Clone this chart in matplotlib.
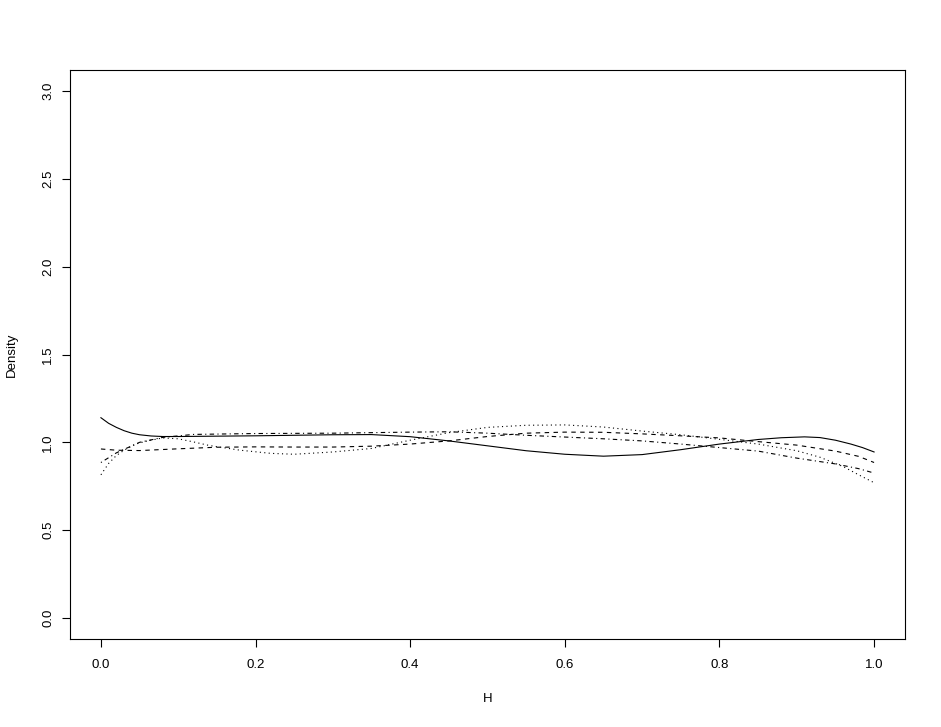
import matplotlib
matplotlib.use("Agg")
import matplotlib.pyplot as plt
import numpy as np

plt.rcParams['font.family'] = ['Liberation Sans', 'DejaVu Sans']

# density curves
x_solid = [0, 0.01, 0.02, 0.03, 0.04, 0.05, 0.065, 0.08, 0.1, 0.15, 0.2, 0.25, 0.3,
           0.35, 0.4, 0.45, 0.5, 0.55, 0.6, 0.65, 0.7, 0.75, 0.8, 0.85, 0.88, 0.91,
           0.93, 0.95, 0.97, 0.985, 1.0]
y_solid = [1.14, 1.108, 1.085, 1.066, 1.052, 1.043, 1.036, 1.033, 1.033, 1.035,
           1.037, 1.04, 1.043, 1.044, 1.032, 1.008, 0.98, 0.952, 0.932, 0.921, 0.93,
           0.958, 0.99, 1.016, 1.026, 1.031, 1.027, 1.012, 0.99, 0.97, 0.945]

x_dashed = [0, 0.02, 0.05, 0.1, 0.15, 0.2, 0.25, 0.3, 0.35, 0.4, 0.45, 0.5, 0.55,
            0.6, 0.65, 0.7, 0.75, 0.8, 0.85, 0.9, 0.95, 0.98, 1.0]
y_dashed = [0.962, 0.955, 0.953, 0.963, 0.972, 0.974, 0.973, 0.973, 0.978, 0.99,
            1.008, 1.033, 1.052, 1.058, 1.057, 1.048, 1.037, 1.025, 1.004, 0.984,
            0.95, 0.92, 0.885]

x_dotted = [0, 0.01, 0.02, 0.03, 0.045, 0.06, 0.08, 0.1, 0.12, 0.14, 0.18, 0.22, 0.25,
            0.3, 0.35, 0.4, 0.45, 0.5, 0.55, 0.6, 0.65, 0.7, 0.75, 0.8, 0.85, 0.9,
            0.93, 0.96, 0.98, 1.0]
y_dotted = [0.815, 0.88, 0.925, 0.955, 0.99, 1.008, 1.025, 1.02, 1.002, 0.982, 0.955,
            0.937, 0.932, 0.945, 0.965, 1.012, 1.055, 1.085, 1.097, 1.099, 1.087,
            1.064, 1.043, 1.017, 0.99, 0.952, 0.915, 0.862, 0.815, 0.77]

x_dashdot = [0, 0.02, 0.05, 0.08, 0.12, 0.2, 0.3, 0.4, 0.45, 0.5, 0.55, 0.6, 0.65,
             0.7, 0.75, 0.8, 0.85, 0.9, 0.95, 0.98, 1.0]
y_dashdot = [0.885, 0.94, 1.0, 1.028, 1.045, 1.05, 1.052, 1.058, 1.06, 1.052, 1.04,
             1.03, 1.02, 1.008, 0.99, 0.97, 0.95, 0.91, 0.877, 0.85, 0.825]

xticks = [0.0, 0.2, 0.4, 0.6, 0.8, 1.0]
yticks = [0.0, 0.5, 1.0, 1.5, 2.0, 2.5, 3.0]

fig = plt.figure(figsize=(9.41, 7.27), dpi=100)
ax = fig.add_axes([70/941, 88/727, 835/941, 569/727])

lw = 0.8
ax.plot(x_solid, y_solid, color='black', lw=lw)
ax.plot(x_dashed, y_dashed, color='black', lw=lw, dashes=(4, 4))
ax.plot(x_dotted, y_dotted, color='black', lw=lw, dashes=(1, 3))
ax.plot(x_dashdot, y_dashdot, color='black', lw=lw, dashes=(1, 3, 4, 3))

ax.set_xlim(-0.04, 1.04)
ax.set_ylim(-0.12, 3.12)
ax.set_xticks(xticks)
ax.set_xticklabels(["%.1f" % v for v in xticks])
ax.set_yticks(yticks)
ax.set_yticklabels(["%.1f" % v for v in yticks], rotation=90, va='center')

ax.tick_params(direction='out', length=5.5, width=0.8, labelsize=9.5)
ax.tick_params(axis='x', pad=9)
ax.tick_params(axis='y', pad=6)
for s in ax.spines.values():
    s.set_linewidth(0.8)

ax.set_xlabel("H", fontsize=9.5)
ax.set_ylabel("Density", fontsize=9.5)
ax.xaxis.set_label_coords(0.5, -0.095)
ax.yaxis.set_label_coords(-0.062, 0.5)

fig.savefig("out.png", dpi=100)
